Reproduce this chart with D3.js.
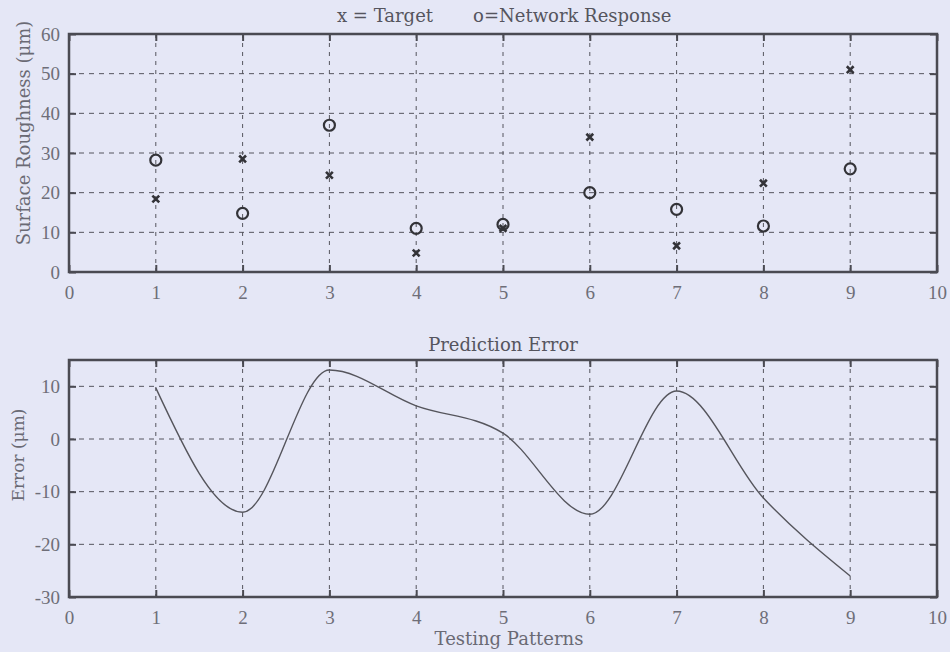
<html lang="en">
<head>
  <meta charset="UTF-8"/>
  <title>Surface roughness network response</title>
  <script src="https://d3js.org/d3.v7.min.js"></script>
  <style>
    body { margin: 0; background: #e5e7f6; }
    svg { display: block; }
    .tick text { fill: #6e6e78; font-family: "Liberation Serif", serif; font-size: 19px; }
    .label { fill: #6a6a74; font-family: "DejaVu Serif", serif; font-size: 17px; }
    .title { fill: #55555e; font-family: "DejaVu Serif", serif; font-size: 18px; white-space: pre; }
  </style>
</head>
<body>
<svg width="950" height="652"></svg>
<script>
  // testing patterns 1..9
  const patterns = [1, 2, 3, 4, 5, 6, 7, 8, 9];
  const target = [18.4, 28.5, 24.4, 4.8, 11, 34, 6.6, 22.4, 51];
  const response = [28.2, 14.8, 37, 11, 12, 20, 15.8, 11.6, 26];
  const predError = [9.7, -13.9, 13.1, 6.3, 1.1, -14.3, 9.1, -11.2, -26];

  const xTicks = [0, 1, 2, 3, 4, 5, 6, 7, 8, 9, 10];
  const yTicksTop = [0, 10, 20, 30, 40, 50, 60];
  const yTicksBottom = [-30, -20, -10, 0, 10];

  const svg = d3.select('svg');
  const axisColor = '#4a4a52';
  const gridColor = '#55555e';
  const plain = d => String(d);

  const left = 69, right = 937;
  const x = d3.scaleLinear().domain([0, 10]).range([left, right]);

  function panel(y, yTicks) {
    const [y0, y1] = y.range();
    const g = svg.append('g');

    // grid
    g.append('g').selectAll('line')
      .data(xTicks.slice(1, -1))
      .join('line')
      .attr('x1', d => x(d)).attr('x2', d => x(d))
      .attr('y1', y1).attr('y2', y0)
      .attr('stroke', gridColor).attr('stroke-width', 1)
      .attr('stroke-dasharray', '4,5');
    g.append('g').selectAll('line')
      .data(yTicks.filter(d => y(d) > y1 + 1 && y(d) < y0 - 1))
      .join('line')
      .attr('x1', left).attr('x2', right)
      .attr('y1', d => y(d)).attr('y2', d => y(d))
      .attr('stroke', gridColor).attr('stroke-width', 1)
      .attr('stroke-dasharray', '5,5');

    // axes, ticks pointing inwards
    g.append('g')
      .attr('transform', `translate(0,${y0})`)
      .call(d3.axisBottom(x).tickValues(xTicks).tickSize(-7).tickPadding(14).tickFormat(plain))
      .call(a => a.select('.domain').remove())
      .call(a => a.selectAll('line').attr('stroke', axisColor).attr('stroke-width', 2));
    g.append('g')
      .attr('transform', `translate(0,${y1})`)
      .call(d3.axisTop(x).tickValues(xTicks).tickSize(-7).tickFormat(''))
      .call(a => a.select('.domain').remove())
      .call(a => a.selectAll('line').attr('stroke', axisColor).attr('stroke-width', 2));
    g.append('g')
      .attr('transform', `translate(${left},0)`)
      .call(d3.axisLeft(y).tickValues(yTicks).tickSize(-7).tickPadding(9).tickFormat(plain))
      .call(a => a.select('.domain').remove())
      .call(a => a.selectAll('line').attr('stroke', axisColor).attr('stroke-width', 2));
    g.append('g')
      .attr('transform', `translate(${right},0)`)
      .call(d3.axisRight(y).tickValues(yTicks).tickSize(-7).tickFormat(''))
      .call(a => a.select('.domain').remove())
      .call(a => a.selectAll('line').attr('stroke', axisColor).attr('stroke-width', 2));

    g.append('rect')
      .attr('x', left).attr('y', y1)
      .attr('width', right - left).attr('height', y0 - y1)
      .attr('fill', 'none').attr('stroke', axisColor).attr('stroke-width', 2.5);
    return g;
  }

  // top panel: target vs network response
  const yTop = d3.scaleLinear().domain([0, 60]).range([272, 34]);
  const topPanel = panel(yTop, yTicksTop);

  topPanel.append('g').selectAll('path')
    .data(patterns)
    .join('path')
    .attr('transform', (d, i) => `translate(${x(d)},${yTop(target[i])})`)
    .attr('d', d3.symbol(d3.symbolTimes, 32))
    .attr('fill', 'none').attr('stroke', '#333338').attr('stroke-width', 2.6);

  topPanel.append('g').selectAll('circle')
    .data(patterns)
    .join('circle')
    .attr('cx', d => x(d))
    .attr('cy', (d, i) => yTop(response[i]))
    .attr('r', 5.5)
    .attr('fill', 'none').attr('stroke', '#333338').attr('stroke-width', 2.2);

  svg.append('text')
    .attr('class', 'title')
    .attr('x', 337).attr('y', 22)
    .text('x = Target       o=Network Response');

  svg.append('text')
    .attr('class', 'label')
    .attr('transform', 'translate(30,133) rotate(-90)')
    .attr('text-anchor', 'middle')
    .style('font-size', '18px')
    .text('Surface Roughness (\u03bcm)');

  // bottom panel: prediction error
  const yBot = d3.scaleLinear().domain([-30, 15]).range([597, 360]);
  const bottomPanel = panel(yBot, yTicksBottom);

  bottomPanel.append('path')
    .datum(patterns)
    .attr('fill', 'none')
    .attr('stroke', '#55555c')
    .attr('stroke-width', 1.4)
    .attr('d', d3.line()
      .x(d => x(d))
      .y((d, i) => yBot(predError[i]))
      .curve(d3.curveMonotoneX));

  svg.append('text')
    .attr('class', 'title')
    .attr('x', (left + right) / 2).attr('y', 351)
    .attr('text-anchor', 'middle')
    .text('Prediction Error');

  svg.append('text')
    .attr('class', 'label')
    .attr('transform', 'translate(24,455) rotate(-90)')
    .attr('text-anchor', 'middle')
    .text('Error (\u03bcm)');

  svg.append('text')
    .attr('class', 'label')
    .attr('x', (left + right) / 2 + 6).attr('y', 645)
    .attr('text-anchor', 'middle')
    .style('font-size', '18px')
    .text('Testing Patterns');
</script>
</body>
</html>
